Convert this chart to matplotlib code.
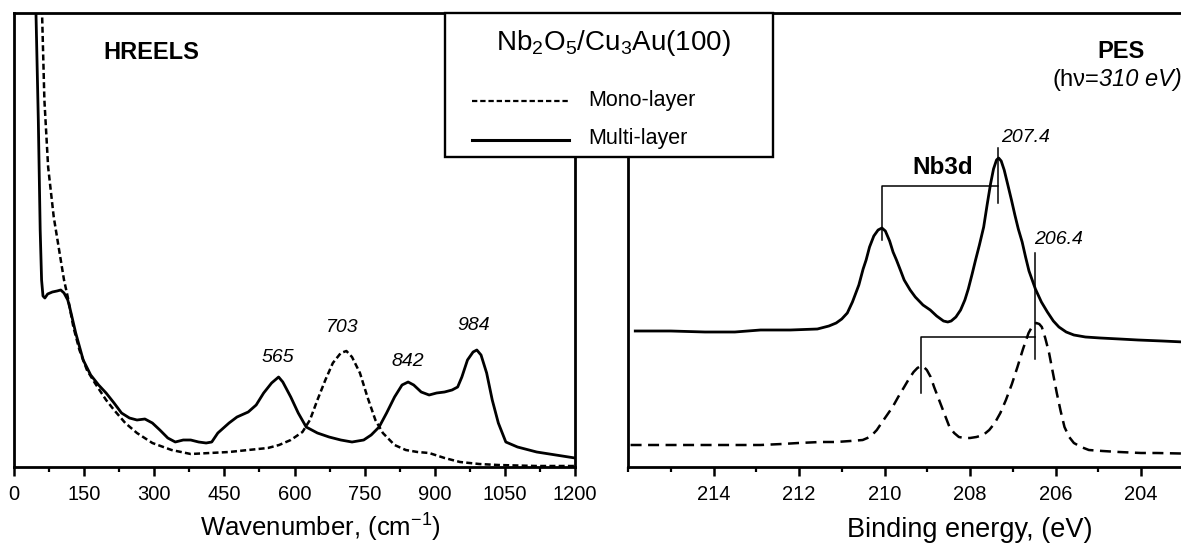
import matplotlib
matplotlib.use("Agg")
import numpy as np
from matplotlib import pyplot as plt
from matplotlib.lines import Line2D
from matplotlib.patches import Rectangle
from matplotlib.ticker import MultipleLocator

plt.rcParams["font.family"] = ["Liberation Sans", "DejaVu Sans"]
plt.rcParams["mathtext.fontset"] = "custom"
plt.rcParams["mathtext.rm"] = "Liberation Sans"
plt.rcParams["mathtext.it"] = "Liberation Sans:italic"
plt.rcParams["mathtext.bf"] = "Liberation Sans:bold"

# HREELS: wavenumber (cm-1) vs intensity (a.u.)
hreels_multi_x = [40, 47, 52, 56, 59, 62, 66, 72, 82, 92, 100, 107, 115, 119, 132, 148,
                  164, 181, 197, 214, 230, 247, 263, 280, 296, 312, 329, 345, 362, 378,
                  395, 411, 423, 436, 460, 477, 501, 518, 534, 551, 566, 575, 592, 608,
                  625, 649, 674, 699, 723, 748, 764, 781, 797, 814, 830, 843, 855, 871,
                  888, 904, 921, 937, 949, 958, 970, 982, 990, 999, 1011, 1023, 1036,
                  1052, 1077, 1118, 1159, 1200]
hreels_multi_y = [527, 454, 347, 237, 187, 171, 169, 173, 175, 176, 177, 174, 167, 160,
                  134, 107, 92, 82, 74, 64, 54, 49, 47, 48, 44, 37, 29, 25, 27, 27, 25,
                  24, 25, 34, 44, 50, 55, 62, 74, 84, 90, 85, 70, 54, 40, 34, 30, 27, 25,
                  27, 32, 40, 54, 70, 82, 85, 82, 75, 72, 74, 75, 77, 80, 90, 107, 115,
                  117, 112, 94, 67, 44, 25, 20, 15, 12, 9]
hreels_mono_x = [56, 60, 65, 73, 85, 100, 107, 115, 127, 140, 156, 173, 197, 214, 238,
                 263, 296, 337, 378, 419, 460, 501, 543, 567, 592, 617, 633, 649, 666,
                 682, 699, 711, 723, 740, 756, 773, 789, 814, 838, 863, 888, 921, 954,
                 995, 1036, 1118, 1200]
hreels_mono_y = [507, 454, 367, 300, 250, 207, 187, 170, 140, 117, 97, 84, 67, 57, 44,
                 34, 24, 17, 13, 14, 15, 17, 19, 22, 27, 35, 47, 67, 87, 104, 114, 116,
                 110, 94, 70, 47, 34, 22, 17, 15, 14, 9, 5, 3, 2, 1, 1]
hreels_peaks = [565, 703, 842, 984]

# PES Nb3d: binding energy (eV) vs intensity (a.u.)
pes_multi_x = [215.83, 215.0, 214.2, 213.5, 212.9, 212.2, 211.57, 211.3, 211.13, 211.0,
               210.87, 210.75, 210.6, 210.5, 210.43, 210.35, 210.25, 210.15, 210.06,
               209.98, 209.88, 209.8, 209.72, 209.62, 209.54, 209.4, 209.28, 209.1,
               208.93, 208.78, 208.62, 208.52, 208.44, 208.33, 208.22, 208.12, 208.04,
               207.95, 207.87, 207.78, 207.68, 207.6, 207.52, 207.45, 207.38, 207.33,
               207.27, 207.2, 207.12, 207.03, 206.95, 206.87, 206.78, 206.7, 206.62,
               206.47, 206.33, 206.19, 206.05, 205.92, 205.75, 205.57, 205.3, 204.95,
               204.5, 204.07, 203.5, 203.0, 202.0]
pes_multi_y = [136, 136, 135, 135, 137, 137, 138, 141, 144, 148, 154, 165, 182, 198, 207,
               220, 231, 237, 239, 236, 226, 215, 207, 196, 187, 177, 170, 162, 157, 151,
               146, 145, 146, 150, 157, 167, 178, 193, 207, 222, 240, 262, 283, 298, 307,
               309, 306, 297, 283, 267, 252, 238, 225, 210, 196, 178, 165, 155, 146, 140,
               135, 132, 130, 129, 128, 127, 126, 125, 124]
pes_mono_x = [215.94, 215.0, 214.22, 213.5, 212.9, 212.4, 212.01, 211.5, 211.13, 210.8,
              210.51, 210.4, 210.29, 210.18, 210.07, 209.94, 209.81, 209.68, 209.54,
              209.43, 209.32, 209.23, 209.15, 209.08, 209.01, 208.92, 208.84, 208.75,
              208.66, 208.57, 208.48, 208.37, 208.26, 208.13, 208.0, 207.85, 207.69,
              207.55, 207.42, 207.29, 207.16, 207.02, 206.89, 206.76, 206.63, 206.54,
              206.45, 206.38, 206.32, 206.24, 206.15, 206.06, 205.97, 205.88, 205.79,
              205.68, 205.57, 205.4, 205.22, 204.9, 204.51, 204.0, 203.63, 202.5]
pes_mono_y = [22, 22, 22, 22, 22, 23, 24, 25, 25, 26, 27, 29, 32, 37, 44, 52, 60, 70, 80,
              88, 95, 99, 101, 100, 97, 90, 80, 70, 60, 50, 40, 34, 30, 29, 29, 30, 32,
              37, 44, 54, 67, 83, 100, 118, 134, 141, 144, 143, 140, 129, 114, 94, 74, 56,
              40, 30, 24, 20, 17, 16, 15, 14, 14, 13]
pes_multi_peaks = [210.06, 207.35]
pes_mono_peaks = [209.15, 206.47]

W, H = 1181, 544


def fx(px):
    return px / W


def fy(py):
    return 1 - py / H


fig = plt.figure(figsize=(W / 100, H / 100), dpi=100)
ax1 = fig.add_axes([fx(14), 77 / H, 561 / W, 454 / H])
ax2 = fig.add_axes([fx(628), 77 / H, 684 / W, 454 / H])

for ax in (ax1, ax2):
    for s in ax.spines.values():
        s.set_linewidth(2)
    ax.set_yticks([])
    ax.set_ylim(0, 454)
    ax.tick_params(axis="x", which="major", direction="out", length=6.8, width=1.8,
                   labelsize=14.5, pad=6)
    ax.tick_params(axis="x", which="minor", direction="out", length=3.3, width=1.6)

# HREELS
ax1.plot(hreels_mono_x, hreels_mono_y, color="k", lw=1.8, dashes=(2.4, 1.3))
ax1.plot(hreels_multi_x, hreels_multi_y, color="k", lw=2)
ax1.set_xlim(0, 1200)
ax1.set_xticks(np.arange(0, 1201, 150))
ax1.xaxis.set_minor_locator(MultipleLocator(75))
ax1.set_xlabel("Wavenumber, (cm$^{-1}$)", fontsize=18.5)
ax1.xaxis.label.set_verticalalignment("baseline")
ax1.xaxis.set_label_coords(0.547, -0.154)
ax1.text(0.244, 0.912, "HREELS", transform=ax1.transAxes, fontsize=17,
         fontweight="bold", ha="center", va="center")
for pk, yy in zip(hreels_peaks, [109, 139, 105, 142]):
    ax1.text(pk, yy, str(pk), fontsize=14, fontstyle="italic", ha="center", va="center")

# PES
ax2.plot(pes_mono_x, pes_mono_y, color="k", lw=1.8, dashes=(4.4, 2.6))
ax2.plot(pes_multi_x, pes_multi_y, color="k", lw=2)
ax2.set_xlim(216, 200)
ax2.set_xticks(np.arange(214, 203, -2))
ax2.xaxis.set_minor_locator(MultipleLocator(1))
ax2.set_xlabel("Binding energy, (eV)", fontsize=19.5)
ax2.xaxis.label.set_verticalalignment("baseline")
ax2.xaxis.set_label_coords(0.5, -0.154)

a, b = pes_multi_peaks
ax2.plot([a, a, b], [227, 281, 281], color="k", lw=1.1)
ax2.plot([b, b], [264, 319], color="k", lw=1.1)
a, b = pes_mono_peaks
ax2.plot([a, a, b], [74, 130, 130], color="k", lw=1.1)
ax2.plot([b, b], [108, 214], color="k", lw=1.1)
ax2.text(207.28, 329, "207.4", fontsize=14, fontstyle="italic", ha="left", va="center")
ax2.text(206.5, 227, "206.4", fontsize=14, fontstyle="italic", ha="left", va="center")
ax2.text(208.65, 299, "Nb3d", fontsize=17.5, fontweight="bold", ha="center", va="center")

ax2.text(0.721, 0.916, "PES", transform=ax2.transAxes, fontsize=17,
         fontweight="bold", ha="center", va="center")
t = ax2.text(0.620, 0.852, "(h\u03bd=", transform=ax2.transAxes, fontsize=17,
             ha="left", va="center")
ax2.annotate("310 eV)", xy=(1, 0), xycoords=t, fontsize=17, fontstyle="italic",
             ha="left", va="bottom")

# legend box across both panels
fig.add_artist(Rectangle((fx(445), fy(157)), 328 / W, 144 / H, transform=fig.transFigure,
                         facecolor="white", edgecolor="k", lw=1.7, zorder=10))
fig.text(fx(613), fy(50), "Nb$_2$O$_5$/Cu$_3$Au(100)", fontsize=20, ha="center",
         va="baseline", zorder=11)
fig.add_artist(Line2D([fx(472), fx(569)], [fy(101), fy(101)], transform=fig.transFigure,
                      color="k", lw=1.6, dashes=(2.4, 1.3), zorder=11))
fig.add_artist(Line2D([fx(472), fx(569)], [fy(140), fy(140)], transform=fig.transFigure,
                      color="k", lw=2.2, zorder=11))
fig.text(fx(588), fy(106), "Mono-layer", fontsize=15.5, va="baseline", zorder=11)
fig.text(fx(588), fy(144), "Multi-layer", fontsize=15.5, va="baseline", zorder=11)

fig.savefig("out.png", dpi=100)
